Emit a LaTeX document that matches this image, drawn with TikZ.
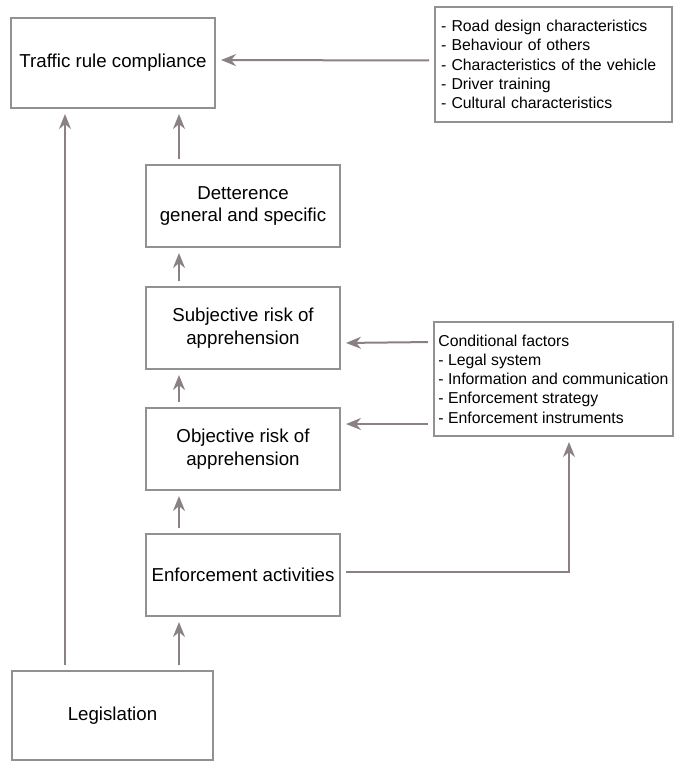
\documentclass[tikz,border=0pt]{standalone}
\usepackage{fontspec}
\setmainfont{Liberation Sans}
\usetikzlibrary{arrows.meta,calc}
\definecolor{boxgray}{RGB}{145,145,145}
\definecolor{arrowgray}{RGB}{138,128,134}

\begin{document}
\begin{tikzpicture}[x=0.5pt,y=-0.5pt,
	box/.style={draw=boxgray,line width=1pt,minimum width=97pt,minimum height=41pt,align=center,inner sep=0pt,font=\fontsize{9.35}{11.3}\selectfont},
	listbox/.style={draw=boxgray,line width=1pt,align=left,inner xsep=3pt,inner ysep=0pt,font=\fontsize{7.9}{9.6}\selectfont},
	flow/.style={draw=arrowgray,line width=1pt,-{Stealth[length=7.5pt,width=6pt,inset=2.4pt]},shorten >=2.5pt,shorten <=2.5pt}]
	%%%%% START %%%%%
	
	\useasboundingbox (0,0) rectangle (675,761);
	
	\coordinate (left) at (65,0);
	\coordinate (mid) at (179,0);
	
	\node[box,minimum width=102pt,minimum height=45pt] (traffic) at (113,63) {\raisebox{1.5pt}{Traffic rule compliance}};
	\node[listbox,text width=112.5pt,minimum height=57.5pt] (factors) at (553.5,64.5) {- Road design characteristics\\- Behaviour of others\\- Characteristics of the vehicle\\- Driver training\\- Cultural characteristics};
	
	\node[box] (detter) at (243,206) {Detterence\\general and specific};
	\node[box] (subj) at (243,328) {Subjective risk of\\apprehension};
	\node[box] (obj) at (243,449) {Objective risk of\\apprehension};
	\node[box] (enf) at (243,575) {Enforcement activities};
	\node[box,minimum width=100.5pt,minimum height=44.5pt] (legis) at (112.5,715.5) {Legislation};
	
	\node[listbox,inner xsep=1.5pt,minimum width=119.5pt,minimum height=57pt] (cond) at (553.5,379) {Conditional factors\\- Legal system\\- Information and communication\\- Enforcement strategy\\- Enforcement instruments};
	
	% arrows
	\draw[flow] ($(factors.west)+(0,-4)$) -- ($(traffic.east)+(0,-3)$);
	\draw[flow] (legis.north -| left) -- (traffic.south -| left);
	\draw[flow] (detter.north -| mid) -- (traffic.south -| mid);
	\draw[flow] (subj.north -| mid) -- (detter.south -| mid);
	\draw[flow] (obj.north -| mid) -- (subj.south -| mid);
	\draw[flow] (enf.north -| mid) -- (obj.south -| mid);
	\draw[flow] (legis.north -| mid) -- (enf.south -| mid);
	
	\draw[flow] ($(cond.west)+(0,-37)$) -- ($(subj.east)+(0,15)$);
	\draw[flow] ($(cond.west)+(0,45)$) -- ($(obj.east)+(0,-25)$);
	\draw[flow] ($(enf.east)+(0,-3)$) -| ($(cond.south)+(15.5,0)$);
	
	%%%%% END %%%%%
\end{tikzpicture}
\end{document}
